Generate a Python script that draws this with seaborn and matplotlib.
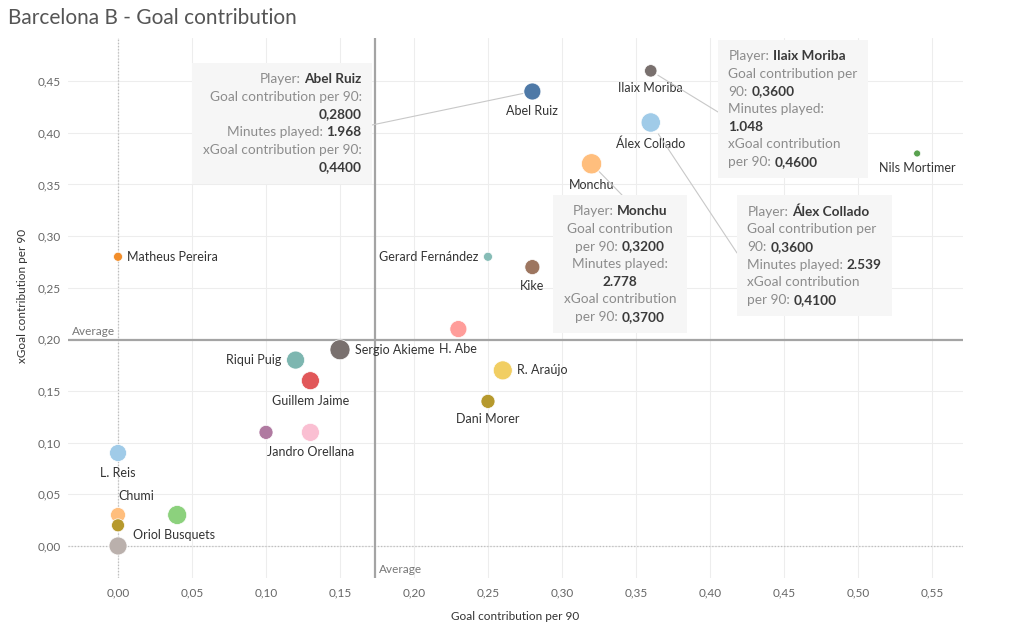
# Barcelona B - goal contribution scatter (tableau style)
import numpy as np
import pandas as pd
import matplotlib
matplotlib.use("Agg")
import matplotlib.pyplot as plt
import seaborn as sns
from matplotlib.offsetbox import TextArea, HPacker, VPacker, AnnotationBbox

# data
players = ["Ilaix Moriba", "Abel Ruiz", "Álex Collado", "Nils Mortimer", "Monchu",
           "Matheus Pereira", "Gerard Fernández", "Kike", "H. Abe", "Sergio Akieme",
           "Riqui Puig", "R. Araújo", "Guillem Jaime", "Dani Morer", "",
           "Jandro Orellana", "L. Reis", "Chumi", "", "", "Oriol Busquets"]
goal_p90 = [0.36, 0.28, 0.36, 0.54, 0.32,
            0.00, 0.25, 0.28, 0.23, 0.15,
            0.12, 0.26, 0.13, 0.25, 0.10,
            0.13, 0.00, 0.00, 0.04, 0.00, 0.00]
xgoal_p90 = [0.46, 0.44, 0.41, 0.38, 0.37,
             0.28, 0.28, 0.27, 0.21, 0.19,
             0.18, 0.17, 0.16, 0.14, 0.11,
             0.11, 0.09, 0.03, 0.03, 0.02, 0.00]
minutes = [1048, 1968, 2539, 330, 2778,
           550, 550, 1530, 1970, 2730,
           2210, 2460, 2210, 1340, 1340,
           2210, 1970, 1530, 2460, 1150, 2210]
colors = ["#79706E", "#4E79A7", "#A0CBE8", "#59A14F", "#FFBE7D",
          "#F28E2B", "#86BCB6", "#9D7660", "#FF9D9A", "#79706E",
          "#7DB6B0", "#F1CE63", "#E15759", "#B6992D", "#B07AA1",
          "#FABFD2", "#A0CBE8", "#FFBE7D", "#8CD17D", "#B6992D", "#BAB0AC"]
label_pos = ["below", "below", "below", "below", "below",
             "right", "left", "below", "below", "right",
             "left", "right", "below", "below", "none",
             "below", "below", "above", "none", "none", "right_up"]

avg_goal = 0.1736
avg_xgoal = 0.1994

x_ticks = np.arange(0, 0.5501, 0.05)
y_ticks = np.arange(0, 0.4501, 0.05)

tooltip_players = ["Abel Ruiz", "Ilaix Moriba", "Monchu", "Álex Collado"]


def fmt_dec(v):
    return f"{v:.4f}".replace(".", ",")


def fmt_min(m):
    return f"{m:,}".replace(",", ".")


sns.set_theme(style="white")
plt.rcParams["font.family"] = ["Lato", "DejaVu Sans"]

df = pd.DataFrame({"player": players, "goal": goal_p90, "xgoal": xgoal_p90,
                   "minutes": minutes, "pos": label_pos})
df["pid"] = [f"p{i}" for i in range(len(df))]
pal = dict(zip(df["pid"], colors))

W, H = 1021, 626
fig = plt.figure(figsize=(W / 100, H / 100), dpi=100)
ax = fig.add_axes([68 / W, 48 / H, (963 - 68) / W, (588 - 48) / H])

# grid + reference lines
ax.set_axisbelow(True)
ax.grid(True, color="#EDEDED", lw=0.8)
ax.axvline(0, color="#BDBDBD", ls=(0, (1, 1.5)), lw=0.9, zorder=1)
ax.axhline(0, color="#BDBDBD", ls=(0, (1, 1.5)), lw=0.9, zorder=1)
ax.axvline(avg_goal, color="#A4A4A4", lw=1.6, zorder=2)
ax.axhline(avg_xgoal, color="#A4A4A4", lw=1.6, zorder=2)
ax.annotate("Average", xy=(0, avg_xgoal), xycoords=("axes fraction", "data"),
            xytext=(3, 2), textcoords="offset points", ha="left", va="bottom",
            fontsize=8.5, color="#777777")
ax.annotate("Average", xy=(avg_goal, 0), xycoords=("data", "axes fraction"),
            xytext=(3, 2), textcoords="offset points", ha="left", va="bottom",
            fontsize=8.5, color="#777777")

# points, area ~ minutes played
sns.scatterplot(data=df, x="goal", y="xgoal", hue="pid", palette=pal,
                size="minutes", sizes=(0, 228), size_norm=(0, 3000),
                edgecolor="white", linewidth=0.5, legend=False, ax=ax, zorder=3)

# labels
for _, r in df.iterrows():
    rad = 0.383 * np.sqrt(r["minutes"]) / 2 * 0.72  # radius in points
    p = r["pos"]
    if p == "none":
        continue
    if p == "below":
        off, ha, va = (0, -(rad + 8)), "center", "center"
    elif p == "right":
        off, ha, va = (rad + 3.5, 0), "left", "center"
    elif p == "left":
        off, ha, va = (-(rad + 3.5), 0), "right", "center"
    elif p == "above":
        off, ha, va = (0, rad + 8), "left", "center"
    else:
        off, ha, va = (rad + 4, 8), "left", "center"
    ax.annotate(r["player"], (r["goal"], r["xgoal"]), xytext=off,
                textcoords="offset points", ha=ha, va=va, fontsize=9,
                color="#333333", zorder=4)

ax.set_xlim(-0.0338, 0.571)
ax.set_ylim(-0.031, 0.4918)
ax.set_xticks(x_ticks)
ax.set_yticks(y_ticks)
ax.set_xticklabels([f"{t:.2f}".replace(".", ",") for t in x_ticks])
ax.set_yticklabels([f"{t:.2f}".replace(".", ",") for t in y_ticks])
ax.tick_params(length=0, colors="#666666", labelsize=8.5)
ax.tick_params(axis="x", pad=7)
ax.tick_params(axis="y", pad=5)
sns.despine(ax=ax, left=True, bottom=True)

ax.set_xlabel("Goal contribution per 90", fontsize=8.5, color="#333333")
ax.set_ylabel("xGoal contribution per 90", fontsize=8.5, color="#333333")
ax.xaxis.set_label_coords(0.5, -0.061)
ax.yaxis.set_label_coords(-0.045, 0.522)

fig.text(8 / W, 1 - 18 / H, "Barcelona B - Goal contribution", fontsize=15,
         color="#555555", ha="left", va="center")

# tooltips
LBL = dict(color="#8C8C8C", fontsize=9.8)
VAL = dict(color="#3A3A3A", fontsize=9.8, fontweight="bold")
PAD = 0.75
pad_px = PAD * 10 * 100 / 72


def seg_line(parts):
    kids = [TextArea(t, textprops=(VAL if b else LBL)) for t, b in parts]
    return HPacker(children=kids, align="baseline", pad=0, sep=2.5)


def tip_lines(name, g, xg, m, wrap):
    g, xg, m = fmt_dec(g), fmt_dec(xg), fmt_min(m)
    head = [("Player:", 0), (name, 1)]
    if wrap == "wide":
        return [head, [("Goal contribution per 90:", 0)], [(g, 1)],
                [("Minutes played:", 0), (m, 1)],
                [("xGoal contribution per 90:", 0)], [(xg, 1)]]
    if wrap == "mid":
        return [head, [("Goal contribution per", 0)], [("90:", 0), (g, 1)],
                [("Minutes played:", 0)], [(m, 1)],
                [("xGoal contribution", 0)], [("per 90:", 0), (xg, 1)]]
    if wrap == "narrow":
        return [head, [("Goal contribution", 0)], [("per 90:", 0), (g, 1)],
                [("Minutes played:", 0)], [(m, 1)],
                [("xGoal contribution", 0)], [("per 90:", 0), (xg, 1)]]
    return [head, [("Goal contribution per", 0)], [("90:", 0), (g, 1)],
            [("Minutes played:", 0), (m, 1)],
            [("xGoal contribution", 0)], [("per 90:", 0), (xg, 1)]]


# box corner positions in image pixels (outer edge of the grey box)
tips = [
    dict(wrap="wide", align="right", at=(372, 63), box=(1, 1), line=(372, 125), shrink=7),
    dict(wrap="mid", align="left", at=(718, 40), box=(0, 1), line=(718, 112), shrink=6),
    dict(wrap="narrow", align="center", at=(620, 195), box=(0.5, 1), line=(622, 195), shrink=8),
    dict(wrap="mid2", align="left", at=(737, 195), box=(0, 1), line=(737, 253), shrink=10),
]

for name, t in zip(tooltip_players, tips):
    r = df[df["player"] == name].iloc[0]
    lines = tip_lines(name, r["goal"], r["xgoal"], r["minutes"], t["wrap"])
    pack = VPacker(children=[seg_line(l) for l in lines], align=t["align"], pad=0, sep=4)
    bx, by = t["box"]
    px = t["at"][0] + (1 - 2 * bx) * pad_px if bx != 0.5 else t["at"][0]
    py = t["at"][1] + pad_px
    ab = AnnotationBbox(pack, (px, H - py), xycoords="figure pixels",
                        box_alignment=t["box"], frameon=True, pad=PAD, fontsize=10,
                        bboxprops=dict(facecolor="#F6F6F6", edgecolor="none"), zorder=6)
    ax.add_artist(ab)
    ax.annotate("", xy=(r["goal"], r["xgoal"]), xycoords="data",
                xytext=(t["line"][0], H - t["line"][1]), textcoords="figure pixels",
                arrowprops=dict(arrowstyle="-", color="#C8C8C8", lw=0.8,
                                shrinkA=0, shrinkB=t["shrink"]), zorder=5)

fig.savefig("out.png", dpi=100)
